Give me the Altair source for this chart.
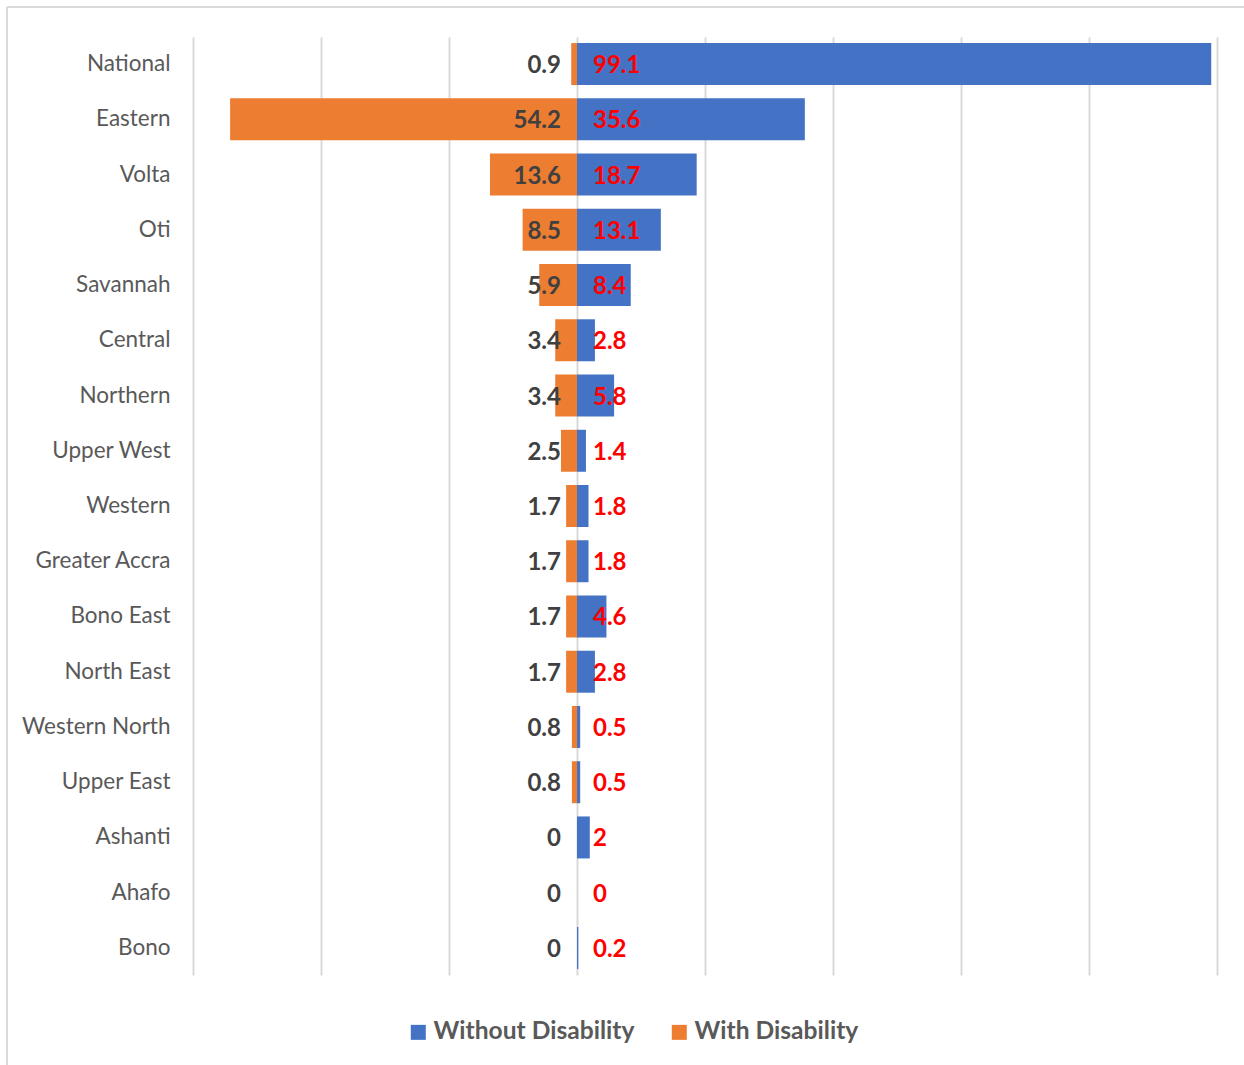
import altair as alt
import pandas as pd

regions = ["National", "Eastern", "Volta", "Oti", "Savannah", "Central", "Northern",
           "Upper West", "Western", "Greater Accra", "Bono East", "North East",
           "Western North", "Upper East", "Ashanti", "Ahafo", "Bono"]
without_dis = [99.1, 35.6, 18.7, 13.1, 8.4, 2.8, 5.8, 1.4, 1.8, 1.8, 4.6, 2.8, 0.5, 0.5, 2, 0, 0.2]
with_dis = [0.9, 54.2, 13.6, 8.5, 5.9, 3.4, 3.4, 2.5, 1.7, 1.7, 1.7, 1.7, 0.8, 0.8, 0, 0, 0]
series = ["Without Disability", "With Disability"]
colors = ["#4472C4", "#ED7D31"]
grid_values = [-60, -40, -20, 0, 20, 40, 60, 80, 100]

rows = []
for r, a, b in zip(regions, without_dis, with_dis):
    rows.append({"region": r, "series": series[0], "value": a, "signed": a, "label": f"{a:g}"})
    rows.append({"region": r, "series": series[1], "value": b, "signed": -b, "label": f"{b:g}"})
df = pd.DataFrame(rows)

x_enc = alt.X("signed:Q",
              scale=alt.Scale(domain=[-60, 100], nice=False, zero=False),
              axis=alt.Axis(values=grid_values, labels=False, ticks=False, domain=False,
                            grid=True, gridColor="#d9d9d9", gridWidth=2, title=None))
y_enc = alt.Y("region:N", sort=regions,
              scale=alt.Scale(paddingInner=0.24, paddingOuter=0.11),
              axis=alt.Axis(title=None, ticks=False, domain=False, labelFont="Lato",
                            labelFontSize=22.5, labelColor="#595959", labelPadding=23))

bars = alt.Chart(df).mark_bar().encode(
    x=x_enc,
    y=y_enc,
    color=alt.Color("series:N", sort=series,
                    scale=alt.Scale(domain=series, range=colors),
                    legend=alt.Legend(orient="none", legendX=213, legendY=983,
                                      direction="horizontal", title=None,
                                      labelFont="Lato", labelFontSize=24.6,
                                      labelFontWeight="bold", labelColor="#595959",
                                      symbolType="square", symbolSize=225,
                                      symbolStrokeWidth=0, columnPadding=32,
                                      labelOffset=3, labelLimit=400)),
)

text_without = alt.Chart(df[df.series == series[0]]).mark_text(
    align="left", baseline="middle", dx=16, dy=2, font="Lato", fontSize=24,
    fontWeight="bold", color="#FF0000"
).encode(x=alt.datum(0), y=alt.Y("region:N", sort=regions), text="label:N")

text_with = alt.Chart(df[df.series == series[1]]).mark_text(
    align="right", baseline="middle", dx=-16, dy=2, font="Lato", fontSize=24,
    fontWeight="bold", color="#404040"
).encode(x=alt.datum(0), y=alt.Y("region:N", sort=regions), text="label:N")

one = pd.DataFrame({"k": [0]})
frame_left = alt.Chart(one).mark_rule(color="#d9d9d9", strokeWidth=2).encode(
    x=alt.value(-186), y=alt.value(-30), y2=alt.value(1100))
frame_top = alt.Chart(one).mark_rule(color="#d9d9d9", strokeWidth=2).encode(
    x=alt.value(-186), x2=alt.value(1100), y=alt.value(-30))

chart = alt.layer(bars, text_without, text_with, frame_left, frame_top).properties(
    width=1024, height=938,
    autosize=alt.AutoSizeParams(type="none"),
    padding={"left": 193, "top": 37, "right": 27, "bottom": 90},
    background="white",
).configure_view(stroke=None)

chart.save("out.html", embed_options={"renderer": "svg", "actions": False})
